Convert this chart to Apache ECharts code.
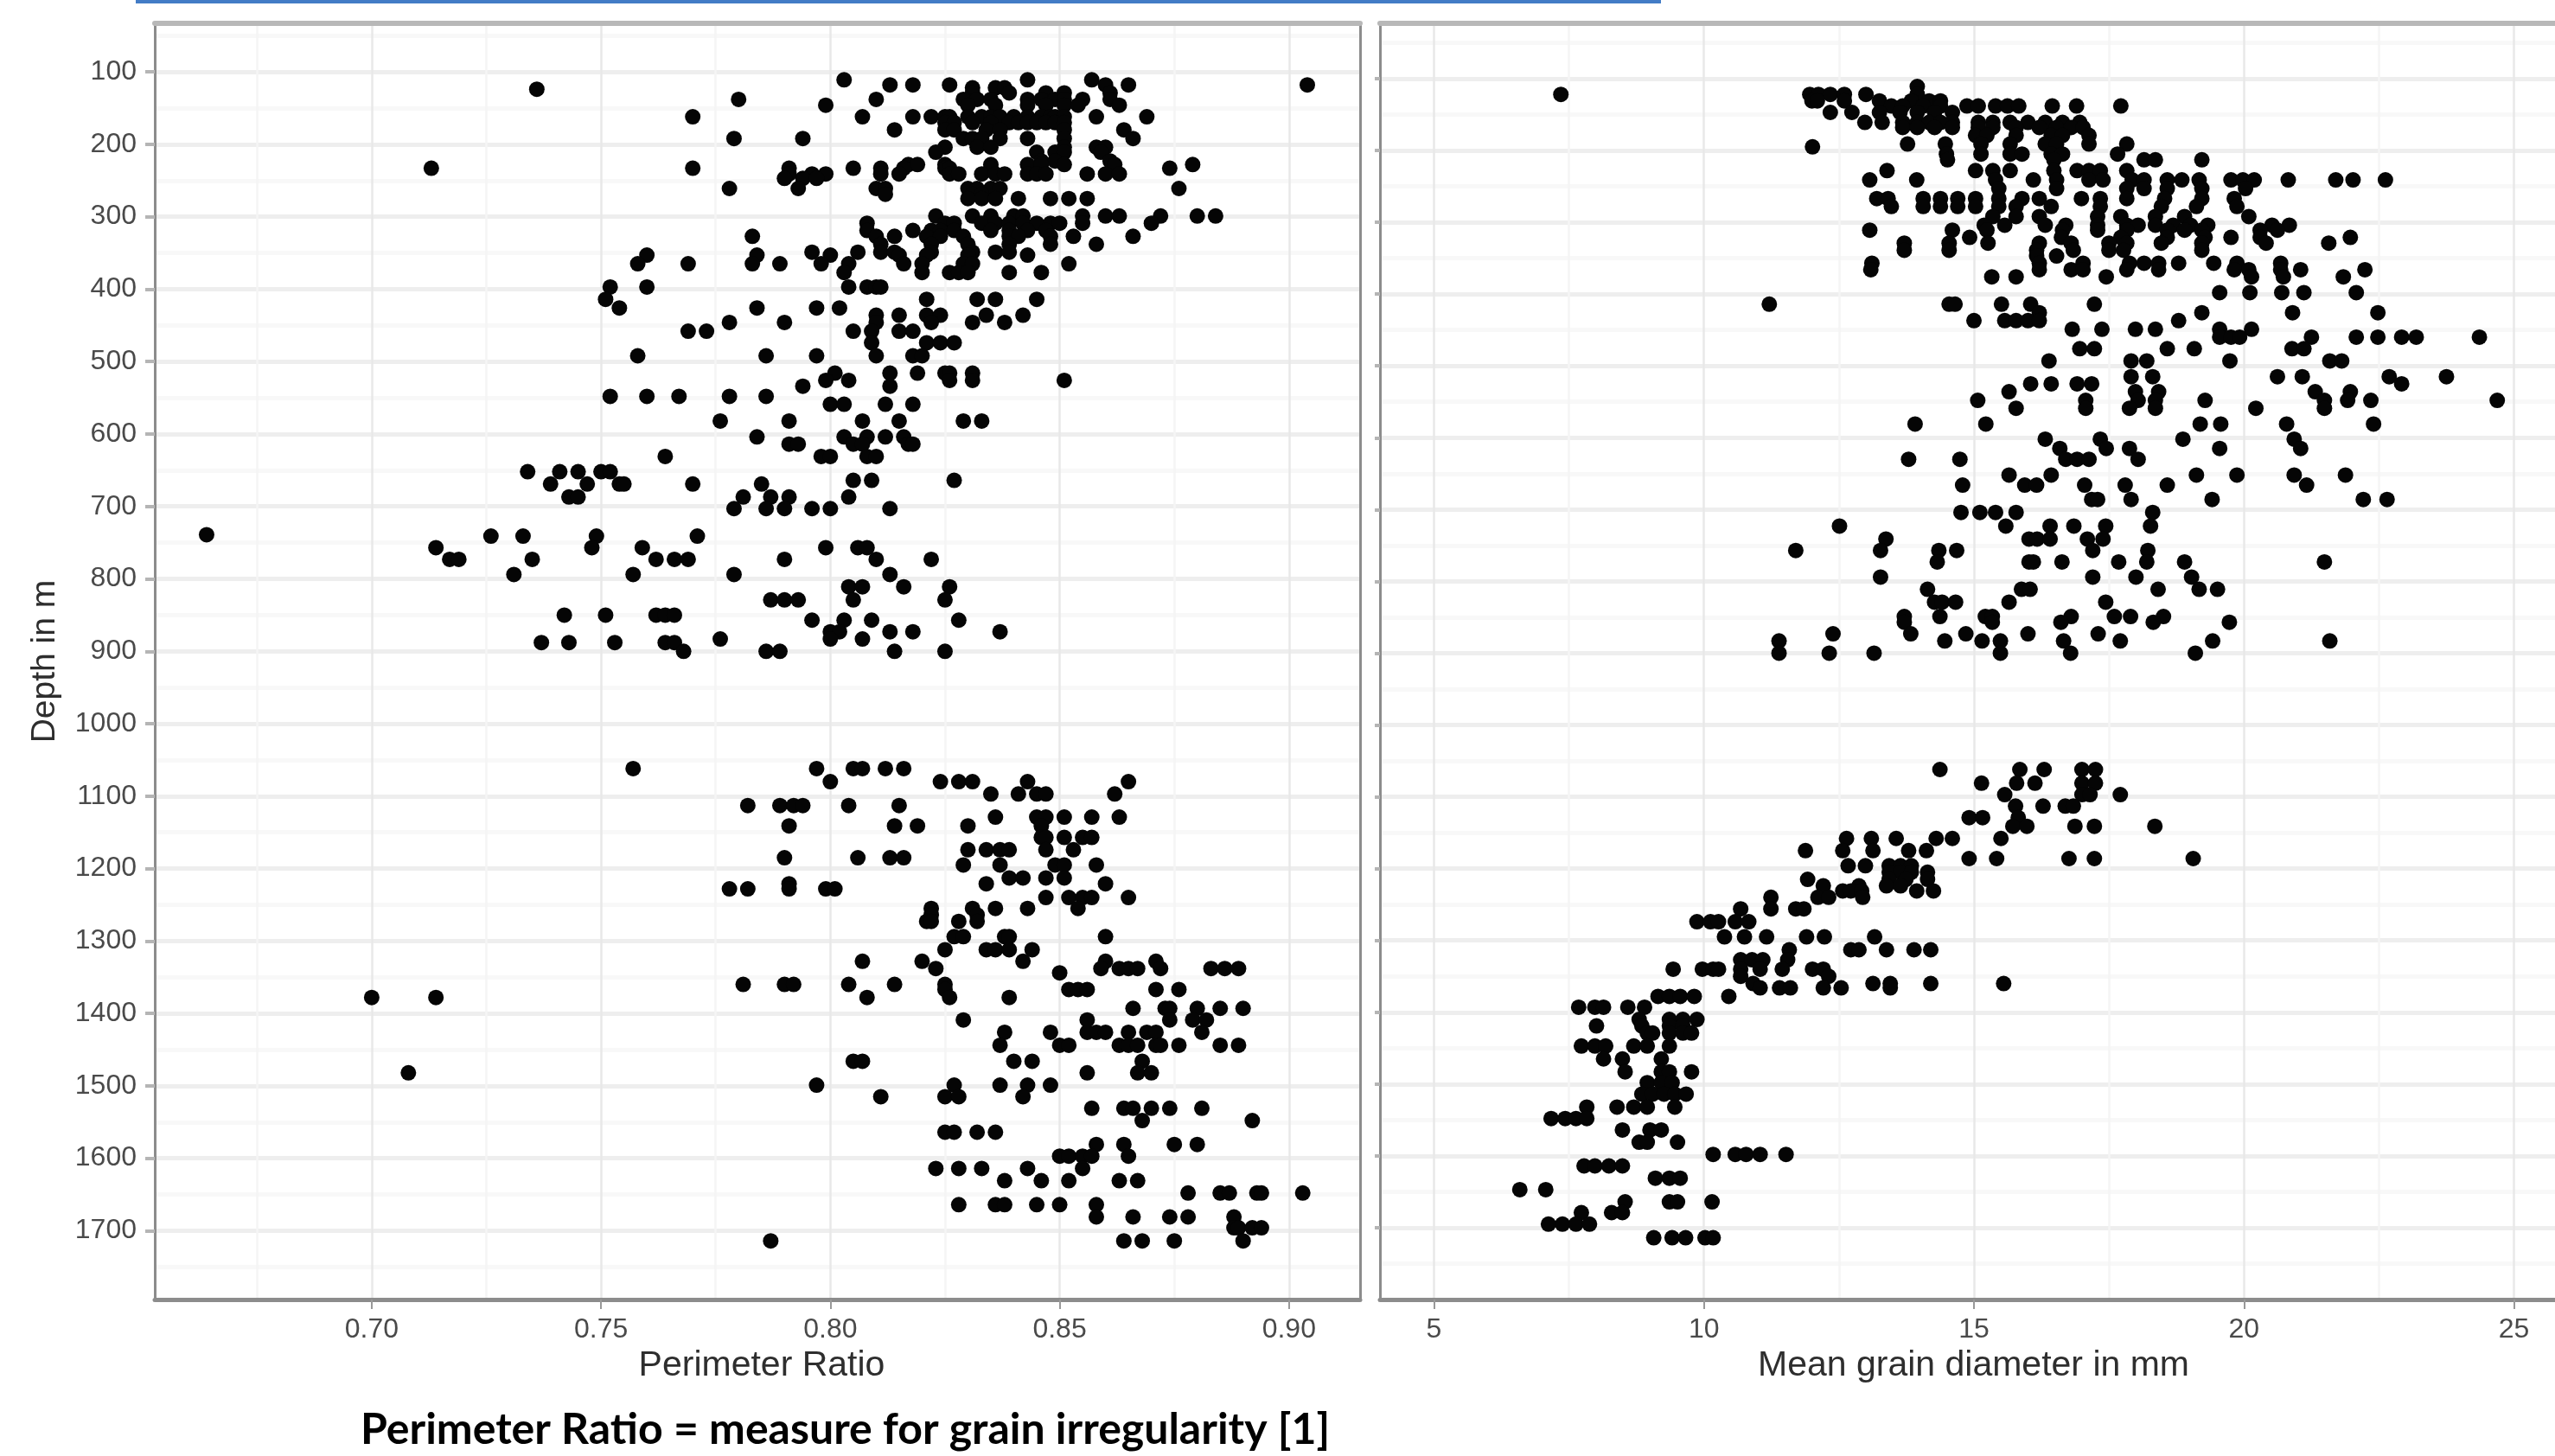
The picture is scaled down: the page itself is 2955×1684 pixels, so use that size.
<!DOCTYPE html>
<html><head><meta charset="utf-8">
<style>html,body{margin:0;padding:0;background:#fff}#c{width:2955px;height:1684px}</style>
<script src="https://cdn.jsdelivr.net/npm/echarts@6/dist/echarts.min.js"></script>
</head><body><div id="c"></div>
<script>
// Each row: [depth in m, value, value, ...]
const perimeterRowsUpper = [
[111,.803,.843,.857],[118,.813,.818,.826,.860,.865,.904],[122,.831,.836,.838],[124,.736],
[129,.831,.839,.847,.851,.861],[138,.780,.810,.829,.832,.835,.843,.846,.849,.851,.855,.861],
[146,.799,.830,.836,.843,.847,.851,.854,.863],
[162,.770,.807,.818,.822,.825,.826,.830,.833,.835,.837,.840,.843,.846,.848,.849,.851,.858,.869],
[170,.825,.827,.831,.835,.839,.841,.843,.845,.847,.849,.851],[180,.814,.825,.827,.834,.837,.851,.864],
[192,.779,.794,.829,.831,.833,.837,.843,.851,.866],[204,.825,.832,.835,.851,.858,.860],
[211,.823,.845,.849,.851,.859],[223,.846,.849,.861],[228,.817,.819,.825,.835,.843,.846,.851,.862,.879],
[233,.713,.770,.791,.805,.811,.816,.825,.826,.835,.874],
[241,.791,.796,.799,.811,.815,.826,.828,.833,.836,.838,.843,.845,.847,.856,.860,.863],
[247,.790,.794,.797],[261,.778,.793,.810,.812,.830,.832,.835,.837,.876],[269,.812,.831,.833],
[275,.830,.833,.836,.841,.848,.852,.856],[299,.823,.831,.835,.840,.842,.855,.860,.863,.872,.880,.884],
[309,.808,.825,.827,.833,.836,.839,.842,.845,.848,.850,.855,.870],
[319,.808,.818,.822,.824,.827,.835,.839,.843,.847],[327,.783,.810,.814,.821,.824,.829,.839,.841,.848,.853,.866],
[338,.811,.822,.830,.839,.848,.858],[349,.796,.806,.811,.814,.822,.831,.836,.839],
[353,.760,.784,.800,.815,.821,.830,.843],[365,.758,.769,.783,.789,.798,.804,.816,.820,.829,.831,.852],
[377,.803,.820,.826,.828,.830,.839,.846],[397,.752,.760,.804,.808,.810,.811],[414,.751,.821,.832,.836,.845],
[426,.754,.784,.797,.802],[436,.810,.815,.821,.824,.834,.842],[446,.778,.790,.810,.822,.831,.838],
[458,.769,.773,.805,.809,.815,.818],[474,.809,.821,.824,.827],[492,.758,.786,.797,.810,.818,.820],
[516,.801,.813,.819,.825,.826,.831],[526,.799,.804,.826,.831,.851],[534,.794,.813],
[548,.752,.760,.767,.778,.786],[559,.800,.803,.812,.818],[582,.776,.791,.807,.815,.829,.833],
[604,.784,.803,.808,.812,.816],[614,.791,.793,.805,.807,.817,.818],[631,.764,.798,.800,.808,.810],
[652,.734,.741,.745,.750,.752],[664,.805,.809,.827],[669,.739,.747,.754,.755,.770,.785],
[687,.743,.745,.781,.787,.791,.804],[703,.779,.786,.790,.796,.800,.813],
[739,.664],[741,.726,.733,.749,.771],[757,.714,.748,.759,.799,.806,.808],
[773,.717,.719,.735,.762,.766,.769,.790,.810,.822],[794,.731,.757,.779,.813],
[811,.804,.807,.816,.826],[829,.787,.790,.793,.805,.825],[850,.742,.751,.762,.764,.766],
[857,.796,.803,.809,.828],[873,.800,.802,.813,.818,.837],[883,.776,.800,.807],
[888,.737,.743,.753,.764,.766],[900,.768,.786,.789,.814,.825]
];
const perimeterRowsLower = [
[1062,.757,.797,.805,.807,.812,.816],[1080,.800,.824,.828,.831,.843,.865],[1097,.835,.841,.845,.847,.862],
[1113,.782,.789,.792,.794,.804,.815],[1129,.836,.845,.847,.851,.857,.863],[1141,.791,.814,.819,.830,.846],
[1157,.846,.847,.851,.855,.857],[1174,.830,.834,.837,.839,.847,.853],[1185,.790,.806,.813,.816],
[1195,.829,.837,.849,.851,.858],[1213,.839,.842,.847,.851],[1221,.791,.834,.860],
[1228,.778,.782,.791,.799,.801],[1240,.847,.852,.855,.857,.865],[1255,.822,.831,.836,.843,.854],
[1264,.822,.832],[1273,.821,.822,.828,.832],[1294,.827,.829,.838,.839,.860],[1312,.825,.834,.836,.839,.844],
[1328,.807,.820,.842,.860,.871],[1338,.823,.859,.863,.865,.867,.872,.883,.886,.889],[1344,.850],
[1360,.781,.790,.792,.804,.814,.825],[1367,.825,.852,.854,.856,.871,.876],[1378,.700,.714,.808,.826,.839],
[1393,.866,.873,.874,.880,.885,.890],[1409,.829,.856,.874,.879,.882],
[1426,.838,.848,.856,.858,.860,.865,.869,.871,.881],
[1444,.837,.850,.852,.863,.865,.867,.871,.872,.876,.885,.889],[1466,.805,.807,.840,.844,.868],
[1482,.708,.856,.867,.870],[1499,.797,.827,.837,.843,.848],[1515,.811,.825,.828,.842],
[1531,.857,.864,.866,.870,.874,.881],[1548,.868,.892],[1564,.825,.827,.832,.836],
[1581,.858,.864,.875,.880],[1597,.850,.852,.855,.857,.865],[1614,.823,.828,.833,.843,.855],
[1631,.838,.846,.852,.863,.867],[1648,.878,.885,.887,.893,.894,.903],[1664,.828,.836,.838,.845,.850,.858],
[1681,.858,.866,.874,.878,.888],[1696,.888,.889,.892,.894],[1714,.787,.864,.868,.875,.890]
];
const grainRowsUpper = [
[111,13.95],[122,7.35,11.96,12.12,12.34,12.6,13.0,13.95],[131,12.0,12.1,12.6,13.25,13.84,14.17,14.38],
[138,13.47,13.68,14.06,14.38,14.87,15.08,15.4,15.62,15.83,16.45,16.9,17.72],
[147,12.34,12.74,13.25,13.63,13.95,14.27,14.6],
[161,12.98,13.3,13.68,13.95,14.17,14.38,14.6,15.08,15.35,15.67,16.0,16.32,16.64,16.96],
[168,13.68,13.95,14.27,14.6,15.08,15.35,15.78,16.21,16.53,16.8,17.02],
[179,15.03,15.24,15.78,16.43,16.64,17.13],[191,13.77,14.47,15.13,15.67,16.32,16.53,17.13,17.83],[195,12.01],
[205,14.49,15.13,15.67,15.89,16.43,16.64,17.66],[213,14.51,16.48,18.15,18.36,19.22],
[228,13.39,15.03,15.35,15.67,16.48,16.91,17.13,17.34,17.83],
[241,13.07,13.94,15.4,16.1,16.53,17.13,17.39,17.93,18.15,18.58,18.85,19.17,19.76,19.98,20.19,20.82,21.7,22.02,22.62],
[253,15.46,16.53,17.83,18.15,18.58,19.22,20.03],
[267,13.2,13.41,14.06,14.38,14.7,15.03,15.46,15.89,16.21,16.99,17.34,17.83,18.53,19.22,19.82],
[278,13.47,14.06,14.38,14.7,15.03,15.46,15.78,16.43,17.34,18.47,19.12,19.87],
[292,15.35,15.78,16.21,17.29,17.72,18.36,18.9,20.09],
[304,15.19,15.57,16.32,16.7,17.29,17.83,18.04,18.36,18.69,19.01,19.33,20.52,20.84],
[311,13.07,14.6,15.24,16.64,17.29,17.83,18.58,18.9,19.22,20.3,20.62],
[321,14.92,16.62,17.72,18.58,19.28,19.76,20.3,21.97],
[329,13.71,14.54,15.26,16.21,16.8,17.5,17.83,18.47,19.22,20.41,21.57],
[339,13.71,14.54,16.16,16.84,17.5,17.77,19.22],[347,16.16,16.53],
[357,13.11,16.21,17.02,17.88,18.15,18.42,18.79,19.44,19.87,20.68],
[366,13.09,16.21,16.8,17.02,17.83,18.42,19.82,20.09,20.68,21.05,22.24],
[376,15.33,15.78,17.45,20.14,20.73,21.84],[398,19.55,20.11,20.7,21.11,22.08],
[414,11.21,14.54,14.65,15.51,16.05,17.23],[426,16.21,19.22,20.9,22.48],
[437,15.0,15.57,15.78,16.0,16.21,18.79],[449,16.82,17.37,17.99,18.36,19.55,20.14],
[460,19.55,19.76,19.92,21.25,22.08,22.48,22.92,23.19,24.36],[476,16.96,17.23,18.58,19.08,20.89,21.11],
[493,16.39,17.91,18.2,19.74,21.59,21.81],[515,17.91,18.31,20.62,21.08,22.69,23.75],
[525,16.05,16.43,16.91,17.18,22.92],[536,15.65,17.99,18.42,21.32,21.97],
[548,15.07,17.07,18.04,18.36,19.28,21.49,21.92,22.35,24.69],[559,15.78,17.07,17.88,18.36,20.22,21.49],
[581,13.91,15.22,19.19,19.57,20.79,22.4],[602,16.32,17.34,18.87,20.93],[615,16.59,17.45,17.88,19.55,21.05],
[630,13.79,14.74,16.7,16.91,17.13,18.04],[652,15.65,16.43,19.12,19.87,20.93,21.88],
[666,14.79,15.94,16.16,17.05,17.8,18.58,21.16],[686,17.18,17.29,17.91,19.41,22.21,22.65],
[704,14.76,15.11,15.4,15.78,18.31],[723,12.51,15.59,16.41,16.85,17.44,18.27],
[741,13.37,16.02,16.17,16.41,17.1,17.39],[757,11.7,13.27,14.35,14.68,17.2,18.22],
[773,14.32,16.02,16.1,16.63,17.68,18.2,18.9,21.49],[794,13.27,17.2,18.0,19.03],
[811,14.14,15.88,16.04,18.41,19.17,19.51],[829,14.27,14.41,14.66,15.65,17.44],
[849,13.71,14.37,15.21,15.34,16.8,17.6,17.9,18.51],[857,13.71,15.34,16.61,18.32,19.73],
[873,12.39,13.83,14.85,16.0,17.3],[883,11.39,14.46,15.15,15.49,16.66,17.71,19.42,21.59],
[900,11.39,12.32,13.15,15.49,16.79,19.1]
];
const grainRowsLower = [
[1062,14.37,15.85,16.3,17.0,17.25],[1081,15.14,15.79,16.13,17.0,17.25],[1097,15.57,17.0,17.15,17.71],
[1113,15.77,16.28,16.69,16.84],[1129,14.91,15.16,15.82],[1141,15.72,15.98,16.87,17.23,18.35],
[1158,12.64,13.1,13.56,14.3,14.6,15.5],[1175,11.88,12.57,13.13,13.79,14.12],[1186,14.91,15.42,16.76,17.23,19.06],
[1196,12.67,12.99,13.43,13.64,13.84],[1205,13.43,13.64,13.84,14.14],[1215,11.92,13.43,13.74,14.14],
[1224,12.21,12.87,13.38,13.64],[1231,12.57,12.72,12.92,13.94,14.25],[1240,11.24,12.11,12.31,12.94],
[1256,10.68,11.24,11.7,11.85],[1274,9.87,10.12,10.27,10.58,10.83],[1295,10.38,10.75,11.16,11.9,12.23,13.16],
[1313,11.58,12.72,12.87,13.38,13.89,14.2],[1327,10.68,10.89,11.09,11.55],
[1340,9.43,9.97,10.17,10.27,10.68,11.04,11.45,12.01,12.21],[1350,10.68,12.31],[1360,10.91,13.13,13.45,14.2,15.55],
[1366,11.04,11.4,11.6,12.21,12.54,13.45],[1378,9.15,9.36,9.56,9.82,10.46],[1393,7.68,7.98,8.14,8.59,8.9],
[1410,8.8,9.36,9.61,9.87],[1419,8.01,8.85,9.36,9.61],[1429,8.95,9.05,9.36,9.61,9.77],
[1447,7.73,7.98,8.18,8.7,8.95,9.36],[1465,8.14,8.49,9.21],[1483,8.54,9.21,9.36,9.77],[1498,8.95,9.21,9.41],
[1514,8.85,9.05,9.26,9.46,9.67],[1532,7.83,8.39,8.7,8.95,9.46],[1548,7.17,7.43,7.63,7.83],
[1564,8.49,9.0,9.21],[1581,8.8,8.95,9.51],[1598,10.17,10.58,10.78,11.04,11.52],[1614,7.78,7.98,8.24,8.49],
[1631,9.1,9.36,9.56],[1647,6.59,7.07],[1664,8.54,9.36,9.51,10.15],[1679,7.73,8.29,8.49],
[1695,7.12,7.38,7.63,7.88],[1714,9.07,9.41,9.66,10.02,10.17]
];
const depthMajor = [100,200,300,400,500,600,700,800,900,1000,1100,1200,1300,1400,1500,1600,1700];
const depthMinor = [50,150,250,350,450,550,650,750,850,950,1050,1150,1250,1350,1450,1550,1650,1750];
const ratioMajor = [0.70,0.75,0.80,0.85,0.90];
const ratioMinor = [0.675,0.725,0.775,0.825,0.875];
const grainMajor = [5,10,15,20,25];
const grainMinor = [7.5,12.5,17.5,22.5];

const toPoints = rows => rows.flatMap(r => r.slice(1).map(v => [v, r[0]]));
const font = 'Liberation Sans';
const GREY = '#8c8c8c', TOP = '#b8b8b8';

function xAxes(min, max, major, minor, name, gridIndex, dec, shift) {
  return [{
    type:'value', gridIndex, min, max, position:'bottom',
    name, nameLocation:'middle', nameGap:54,
    nameTextStyle:{fontFamily:font,fontSize:41,color:'#2e2e2e',padding:[0,0,0,shift]},
    axisLine:{show:true,onZero:false,lineStyle:{color:GREY,width:5}},
    axisTick:{show:true,length:11,customValues:major,lineStyle:{color:'#999',width:2}},
    axisLabel:{show:true,margin:19,customValues:major,fontFamily:font,fontSize:32,color:'#4a4a4a',
      formatter:v=>v.toFixed(dec)},
    splitLine:{show:true,lineStyle:{color:'#e8e8e8',width:2.5}}
  },{
    type:'value', gridIndex, min, max, position:'top',
    axisLine:{show:true,onZero:false,lineStyle:{color:TOP,width:6}},
    axisTick:{show:false,customValues:minor},
    axisLabel:{show:false},
    splitLine:{show:true,lineStyle:{color:'#f5f5f5',width:2.5}}
  }];
}
function yAxes(min, max, gridIndex, labels, rightLine, name) {
  return [{
    type:'value', gridIndex, min, max, inverse:true, position:'left',
    name, nameLocation:'middle', nameGap:107,
    nameTextStyle:{fontFamily:font,fontSize:39,color:'#2e2e2e'},
    axisLine:{show:true,onZero:false,lineStyle:{color:GREY,width:3}},
    axisTick:{show:true,length:labels?11:6,customValues:depthMajor,lineStyle:{color:'#b5b5b5',width:4}},
    axisLabel:{show:labels,margin:21,customValues:depthMajor,fontFamily:font,fontSize:32,color:'#4a4a4a',
      padding:[8,0,0,0],formatter:v=>String(v)},
    splitLine:{show:true,lineStyle:{color:'#eeeeee',width:5}}
  },{
    type:'value', gridIndex, min, max, inverse:true, position:'right',
    axisLine:{show:rightLine,onZero:false,lineStyle:{color:GREY,width:3}},
    axisTick:{show:false,customValues:depthMinor},
    axisLabel:{show:false},
    splitLine:{show:true,lineStyle:{color:'#f8f8f8',width:5}}
  }];
}
const dots = (data,xi,yi) => ({type:'scatter',xAxisIndex:xi,yAxisIndex:yi,data,symbol:'circle',symbolSize:18,
  itemStyle:{color:'#050505',opacity:1},silent:true,animation:false});

const chart = echarts.init(document.getElementById('c'),null,{renderer:'canvas'});
chart.setOption({
  animation:false, backgroundColor:'#fff',
  title:{text:'Perimeter Ratio = measure for grain irregularity [1]',left:412,top:1624,
    textStyle:{fontFamily:'Lato',fontWeight:700,fontSize:50,color:'#000'}},
  graphic:[{type:'rect',left:157,top:0,shape:{width:1764,height:4},style:{fill:'#437cc6'}}],
  grid:[{left:179,top:27,width:1394,height:1476},{left:1596,top:27,right:0,height:1476}],
  xAxis:[...xAxes(0.6527,0.9155,ratioMajor,ratioMinor,'Perimeter Ratio',0,2,10),
         ...xAxes(4,25.76,grainMajor,grainMinor,'Mean grain diameter in mm',1,0,14)],
  yAxis:[...yAxes(33,1795,0,true,true,'Depth in m'),
         ...yAxes(23,1800,1,false,false,'')],
  series:[dots(toPoints(perimeterRowsUpper).concat(toPoints(perimeterRowsLower)),0,0),
          dots(toPoints(grainRowsUpper).concat(toPoints(grainRowsLower)),2,2)]
});
</script></body></html>
